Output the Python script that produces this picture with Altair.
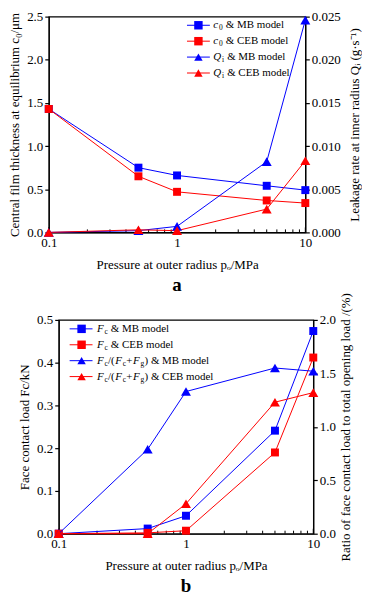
import altair as alt
import pandas as pd

# ---------------- data ----------------
pressure = [0.1, 0.5, 1, 5, 10]
models = ["MB", "CEB"]
model_colors = ["#0000ff", "#ff0000"]

# panel a
c0_mb = [1.43, 0.75, 0.66, 0.54, 0.49]
c0_ceb = [1.43, 0.65, 0.47, 0.37, 0.34]
q_mb = [0.0, 0.0002, 0.0007, 0.0082, 0.0246]
q_ceb = [0.0, 0.0003, 0.0002, 0.0027, 0.0083]

# panel b
fc_mb = [0.0, 0.012, 0.042, 0.241, 0.474]
fc_ceb = [0.0, 0.002, 0.007, 0.19, 0.412]
ratio_mb = [0.0, 0.79, 1.33, 1.55, 1.52]
ratio_ceb = [0.0, 0.0, 0.28, 1.23, 1.32]

x_tick_values = [0.1, 1, 10]
minor_ticks = [0.2, 0.3, 0.4, 0.5, 0.6, 0.7, 0.8, 0.9, 2, 3, 4, 5, 6, 7, 8, 9]

a_left_ticks = [0, 0.5, 1.0, 1.5, 2.0, 2.5]
a_right_ticks = [0, 0.005, 0.01, 0.015, 0.02, 0.025]
b_left_ticks = [0, 0.1, 0.2, 0.3, 0.4, 0.5]
b_right_ticks = [0, 0.5, 1.0, 1.5, 2.0]

x_title = "Pressure at outer radius pₒ/MPa"
a_left_title = "Central film thickness at equilibrium c₀/μm"
a_right_title = "Leakage rate at inner radius Qᵢ (g·s⁻¹)"
b_left_title = "Face contact load Fc/kN"
b_right_title = "Ratio of face contact load to total opening load /(%)"

legend_a = [
    [("c", "i"), ("0", "s"), (" & MB model", "n")],
    [("c", "i"), ("0", "s"), (" & CEB model", "n")],
    [("Q", "i"), ("i", "s"), (" & MB model", "n")],
    [("Q", "i"), ("i", "s"), (" & CEB model", "n")],
]
legend_b = [
    [("F", "i"), ("c", "s"), (" & MB model", "n")],
    [("F", "i"), ("c", "s"), (" & CEB model", "n")],
    [("F", "i"), ("c", "s"), ("/(", "n"), ("F", "i"), ("c", "s"), ("+", "n"),
     ("F", "i"), ("g", "s"), (") & MB model", "n")],
    [("F", "i"), ("c", "s"), ("/(", "n"), ("F", "i"), ("c", "s"), ("+", "n"),
     ("F", "i"), ("g", "s"), (") & CEB model", "n")],
]
legend_keys = [("MB", "square"), ("CEB", "square"), ("MB", "triangle-up"), ("CEB", "triangle-up")]

# ---------------- styling helpers ----------------
FONT = "Liberation Serif"
W_REG = {' ': 250, '&': 778, 'M': 889, 'B': 667, 'C': 667, 'E': 611, 'm': 778, 'o': 500,
         'd': 500, 'e': 444, 'l': 278, '/': 278, '(': 333, ')': 333, '+': 564, '0': 500,
         'i': 278, 'c': 444, 'g': 500, 'F': 556, 'Q': 722}
W_ITA = {'c': 444, 'F': 611, 'Q': 722, 'g': 500}
LEG_FS = 11
SUB_FS = 7.5


def seg_width(text, style):
    if style == "i":
        return sum(W_ITA.get(ch, W_REG.get(ch, 500)) for ch in text) * LEG_FS / 1000 + 0.5
    if style == "s":
        return sum(W_REG.get(ch, 500) for ch in text) * SUB_FS / 1000 + 0.3
    return sum(W_REG.get(ch, 500) for ch in text) * LEG_FS / 1000


def panel(W, H, left_mb, left_ceb, right_mb, right_ceb,
          ldom, lticks, lfmt, ltitle, rdom, rticks, rfmt, rtitle,
          leg_labels, leg_line0, leg_line1, leg_mark, leg_text, leg_y0, leg_dy,
          label, l_tpad, r_tpad):
    xsc = alt.Scale(type="log", domain=[0.1, 10], nice=False)
    xax = alt.Axis(values=x_tick_values, format="~g", ticks=False, title=x_title,
                   labelPadding=4, titlePadding=9, labelFlush=False)
    X = alt.X("p:Q", scale=xsc, axis=xax)
    color = alt.Color("model:N", scale=alt.Scale(domain=models, range=model_colors), legend=None)

    def long(mb, ceb):
        return pd.DataFrame({"p": pressure * 2, "v": mb + ceb,
                             "model": ["MB"] * len(mb) + ["CEB"] * len(ceb)})

    ldf = long(left_mb, left_ceb)
    rdf = long(right_mb, right_ceb)
    lsc = alt.Scale(domain=ldom, nice=False, zero=False)
    rsc = alt.Scale(domain=rdom, nice=False, zero=False)
    lax = alt.Axis(values=lticks, format=lfmt, title=ltitle, orient="left",
                   tickSize=4, labelPadding=2, titlePadding=l_tpad)
    rax = alt.Axis(values=rticks, format=rfmt, title=rtitle, orient="right",
                   tickSize=4, labelPadding=2, titlePadding=r_tpad,
                   titleAngle=270, titleBaseline="top")
    LY = alt.Y("v:Q", scale=lsc, axis=lax)
    RY = alt.Y("v:Q", scale=rsc, axis=rax)

    left_line = alt.Chart(ldf).mark_line(strokeWidth=1).encode(x=X, y=LY, color=color)
    left_pts = alt.Chart(ldf).mark_point(shape="square", filled=True, size=64, opacity=1).encode(
        x=X, y=LY, color=color)
    right_line = alt.Chart(rdf).mark_line(strokeWidth=1).encode(x=X, y=RY, color=color)
    right_pts = alt.Chart(rdf).mark_point(shape="triangle-up", filled=True, size=100, opacity=1).encode(
        x=X, y=RY, color=color)

    minor = alt.Chart(pd.DataFrame({"p": minor_ticks})).mark_rule(color="black", strokeWidth=1).encode(
        x=alt.X("p:Q", scale=xsc), y=alt.value(H), y2=alt.value(H - 3))
    major = alt.Chart(pd.DataFrame({"p": x_tick_values})).mark_rule(color="black", strokeWidth=1).encode(
        x=alt.X("p:Q", scale=xsc), y=alt.value(H), y2=alt.value(H - 5))

    # legend laid out in pixels, converted through the panel's own scales
    def to_p(px):
        return 0.1 * 10 ** (2 * px / W)

    def to_v(py):
        return ldom[0] + (ldom[1] - ldom[0]) * (1 - py / H)

    sym_rows, txt_rows = [], []
    for i, ((mdl, shp), segs) in enumerate(zip(legend_keys, leg_labels)):
        py = leg_y0 + leg_dy * i
        sym_rows.append({"p0": to_p(leg_line0), "p1": to_p(leg_line1), "pm": to_p(leg_mark),
                         "v": to_v(py), "model": mdl, "shape": shp})
        cx = leg_text
        for text, style in segs:
            stripped = text.lstrip(" ")
            cx += seg_width(text[:len(text) - len(stripped)], style)
            txt_rows.append({"p": to_p(cx), "v": to_v(py), "text": stripped, "style": style})
            cx += seg_width(stripped, style)
    sym_df = pd.DataFrame(sym_rows)
    txt_df = pd.DataFrame(txt_rows)
    LYn = alt.Y("v:Q", scale=lsc)
    leg_rule = alt.Chart(sym_df).mark_rule(strokeWidth=1).encode(
        x=alt.X("p0:Q", scale=xsc), x2="p1:Q", y=LYn, color=color)
    leg_pts = alt.Chart(sym_df).mark_point(filled=True, opacity=1, size=72).encode(
        x=alt.X("pm:Q", scale=xsc), y=LYn, color=color,
        shape=alt.Shape("shape:N", scale=alt.Scale(domain=["square", "triangle-up"],
                                                   range=["square", "triangle-up"]), legend=None))
    txt_base = alt.Chart(txt_df)
    t_n = txt_base.transform_filter(alt.datum.style == "n").mark_text(
        align="left", baseline="middle", font=FONT, fontSize=LEG_FS, color="black").encode(
        x=alt.X("p:Q", scale=xsc), y=LYn, text="text:N")
    t_i = txt_base.transform_filter(alt.datum.style == "i").mark_text(
        align="left", baseline="middle", font=FONT, fontSize=LEG_FS, fontStyle="italic",
        color="black").encode(x=alt.X("p:Q", scale=xsc), y=LYn, text="text:N")
    t_s = txt_base.transform_filter(alt.datum.style == "s").mark_text(
        align="left", baseline="middle", font=FONT, fontSize=SUB_FS, dy=3,
        color="black").encode(x=alt.X("p:Q", scale=xsc), y=LYn, text="text:N")

    left_group = alt.layer(minor, major, left_line, left_pts, leg_rule, leg_pts, t_n, t_i, t_s)
    right_group = alt.layer(right_line, right_pts)
    return alt.layer(left_group, right_group).resolve_scale(y="independent").properties(
        width=W, height=H,
        title=alt.TitleParams(label, orient="bottom", fontSize=19, fontWeight="bold",
                              font=FONT, offset=5, color="black"))


chart_a = panel(258, 217, c0_mb, c0_ceb, q_mb, q_ceb,
                [0, 2.5], a_left_ticks, ".1f", a_left_title,
                [0, 0.025], a_right_ticks, ".3f", a_right_title,
                legend_a, 139, 162, 150.5, 165, 8.7, 16, "a", 5, 8)

chart_b = panel(256, 215, fc_mb, fc_ceb, ratio_mb, ratio_ceb,
                [0, 0.5], b_left_ticks, ".1f", b_left_title,
                [0, 2.0], b_right_ticks, ".1f", b_right_title,
                legend_b, 11, 34, 23, 38, 9, 16, "b", 5, 4)

spacer = alt.Chart(pd.DataFrame({"p": [1]})).mark_point(opacity=0).encode(
    x=alt.X("p:Q", axis=None), y=alt.Y("p:Q", axis=None)).properties(
    width=1, height=10, view=alt.ViewBackground(strokeOpacity=0))

row_b = alt.hconcat(spacer, chart_b, spacing=9, bounds="flush")

chart = alt.vconcat(chart_a, row_b, spacing=88, bounds="flush").properties(
    padding={"left": 0, "top": 0, "right": 0, "bottom": 0}
).configure_view(stroke="black", strokeWidth=1.2).configure_axis(
    labelFont=FONT, titleFont=FONT, labelFontSize=13, titleFontSize=13,
    labelColor="black", titleColor="black", domainColor="black", tickColor="black",
    grid=False, titleFontWeight="normal", domainWidth=1.2, tickWidth=1.2)

chart.save("out.html", embed_options={"renderer": "svg", "actions": False})
